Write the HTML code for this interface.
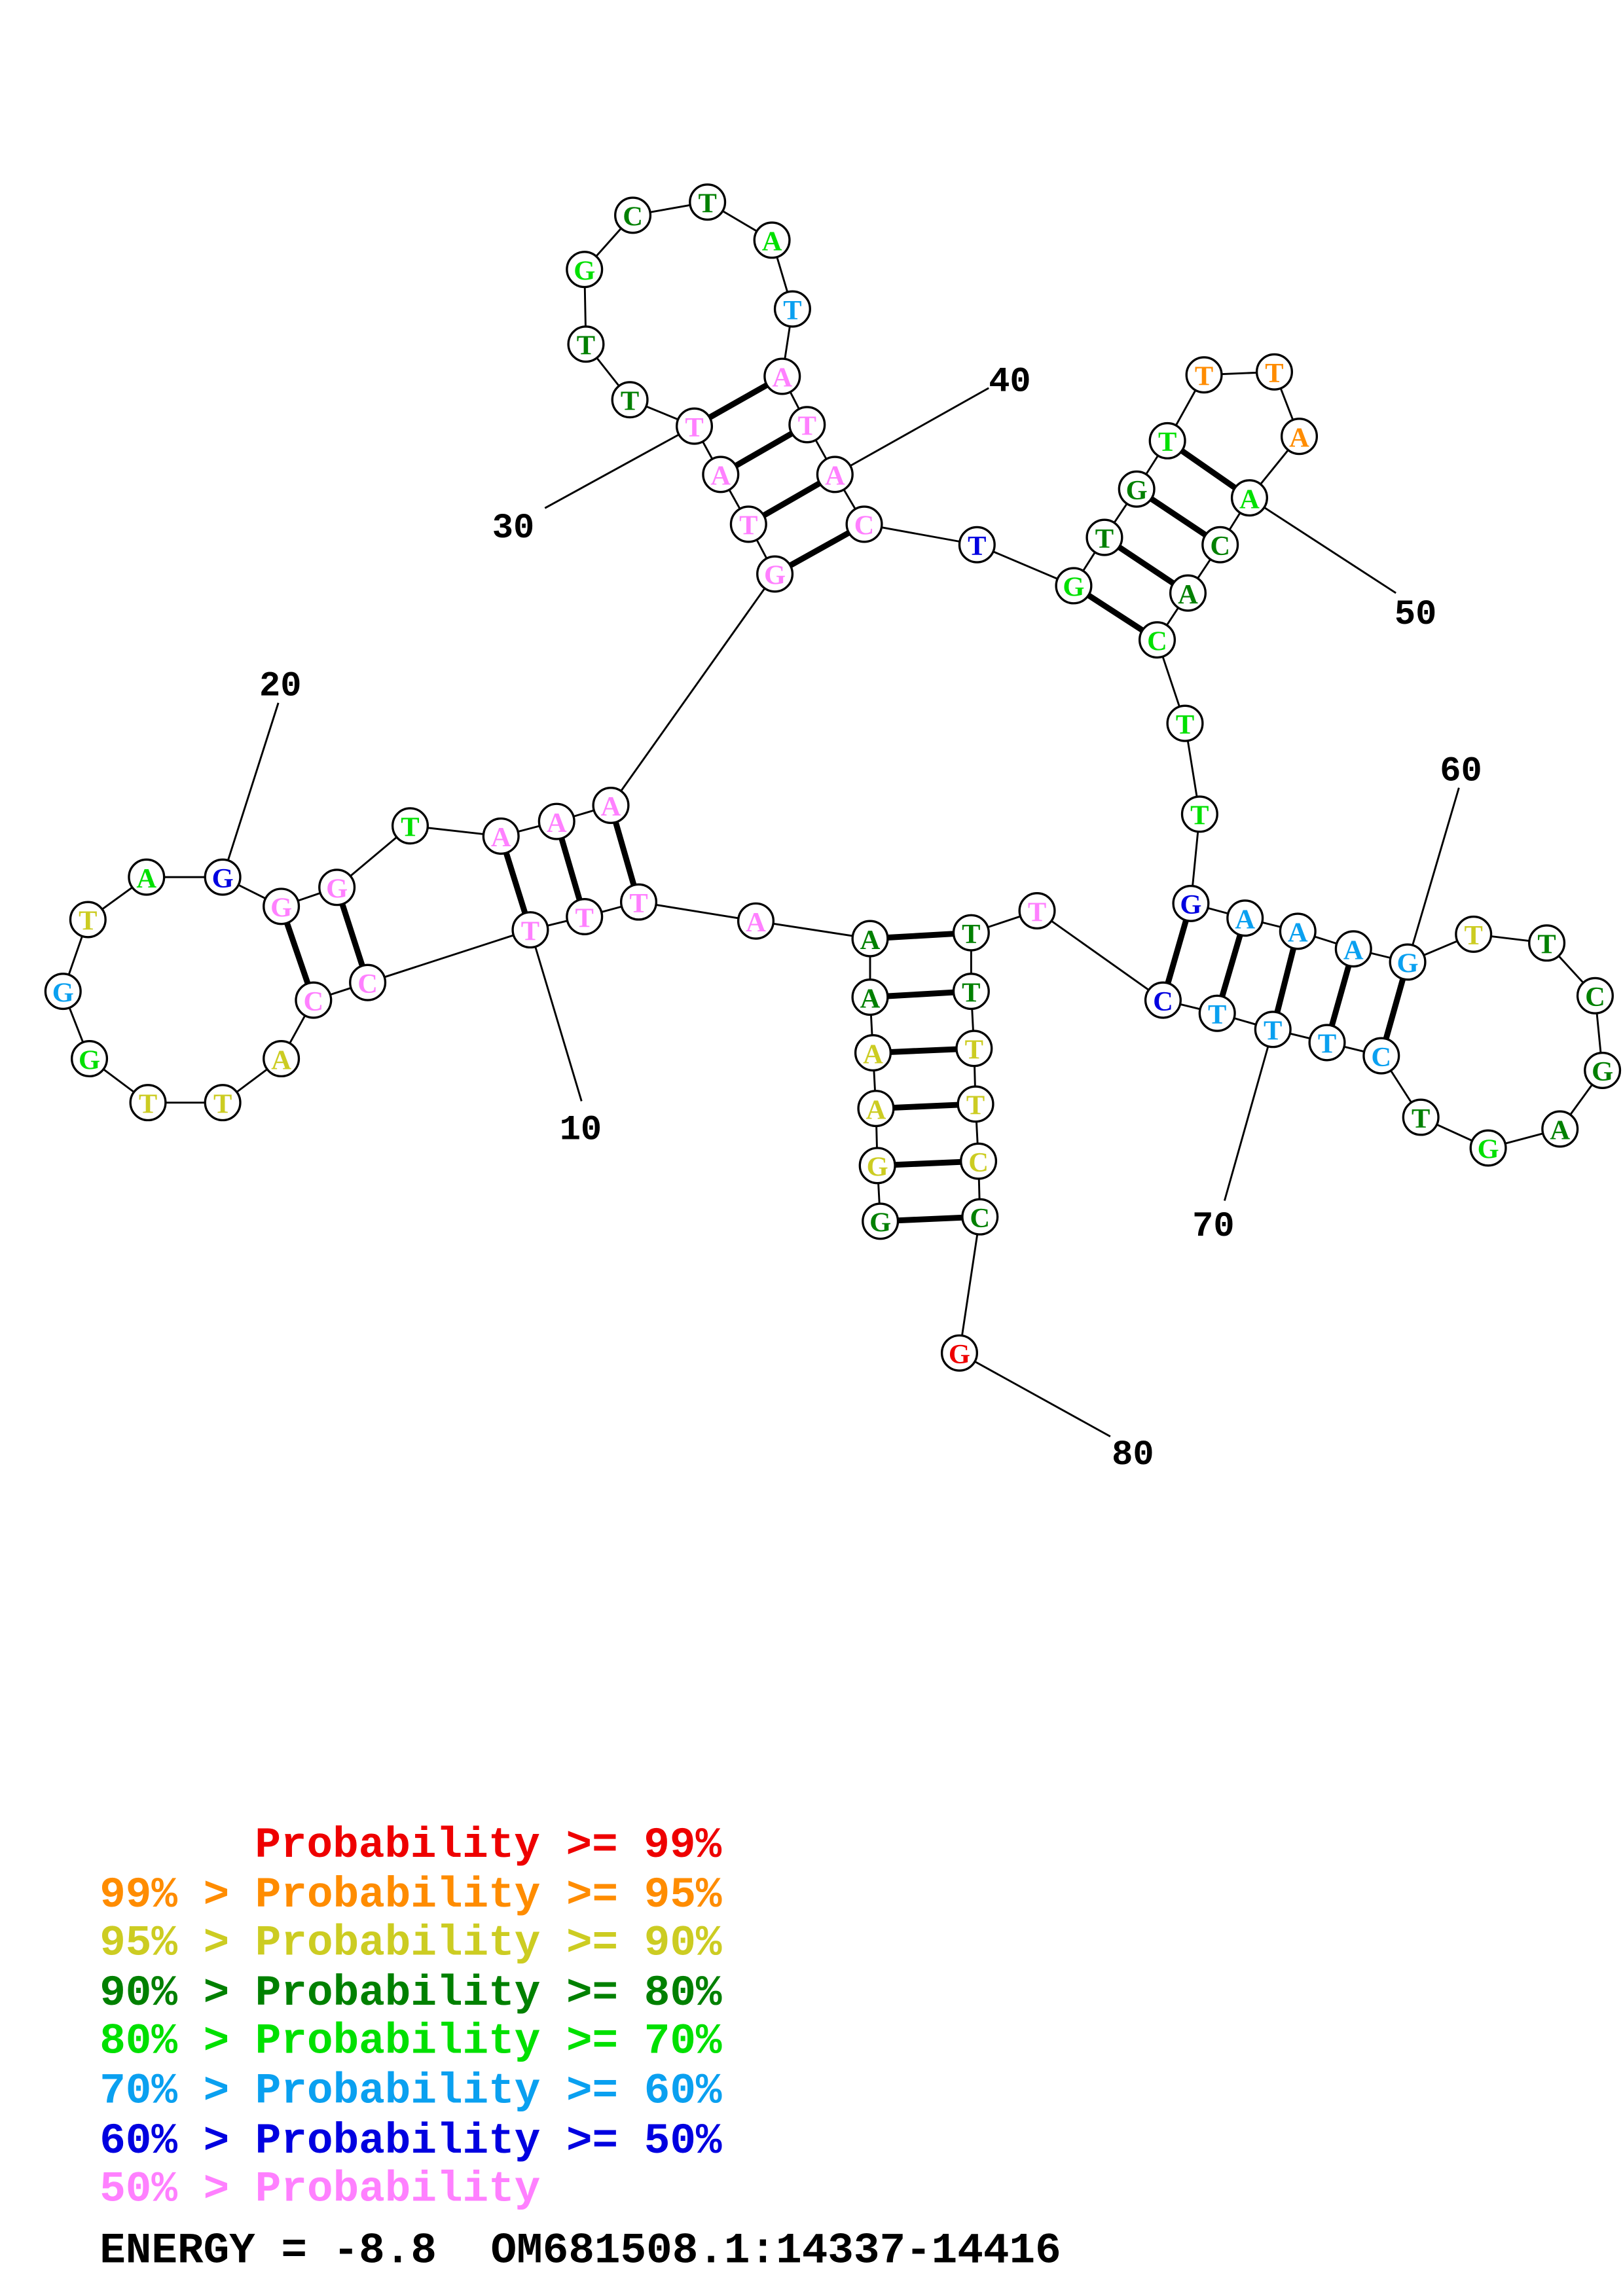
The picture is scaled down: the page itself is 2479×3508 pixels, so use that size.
<!DOCTYPE html>
<html><head><meta charset="utf-8"><style>
html,body{margin:0;padding:0;background:#fff;}
svg{display:block}
.n text{font-family:"Liberation Serif",serif;font-weight:bold;font-size:19px;text-anchor:middle;dominant-baseline:central}
.lb{font-family:"Liberation Mono",monospace;font-weight:bold;font-size:24px;fill:#000}
.lg{font-family:"Liberation Mono",monospace;font-weight:bold;font-size:29.5px}
</style></head><body>
<svg id="s" width="2479" height="3508" viewBox="0 0 1108 1568" xmlns="http://www.w3.org/2000/svg">
<g id="bb" stroke="#000" stroke-width="1.3" fill="none"></g>
<g id="pp" stroke="#000" stroke-width="4" fill="none"></g>
<g stroke="#000" stroke-width="1.3">
<line x1="362" y1="635" x2="397" y2="752"/>
<line x1="152" y1="599" x2="190" y2="480"/>
<line x1="474" y1="291" x2="372" y2="347"/>
<line x1="570" y1="324" x2="675" y2="265"/>
<line x1="853" y1="340" x2="953" y2="405"/>
<line x1="961" y1="657" x2="996" y2="538"/>
<line x1="869" y1="703" x2="836" y2="820"/>
<line x1="655" y1="924" x2="758" y2="981"/>
</g>
<g class="lb">
<text x="382" y="778">10</text><text x="177" y="475">20</text>
<text x="336" y="367">30</text><text x="675" y="267">40</text>
<text x="952" y="426">50</text><text x="983" y="533">60</text>
<text x="814" y="844">70</text><text x="759" y="1000">80</text>
</g>
<g id="nn" class="n"></g>
<g class="lg">
<text x="174" y="1268" fill="#ee0000">Probability &gt;= 99%</text>
<text x="68" y="1302" fill="#ff8c00">99% &gt; Probability &gt;= 95%</text>
<text x="68" y="1335" fill="#cccc22">95% &gt; Probability &gt;= 90%</text>
<text x="68" y="1369" fill="#008000">90% &gt; Probability &gt;= 80%</text>
<text x="68" y="1402" fill="#00e000">80% &gt; Probability &gt;= 70%</text>
<text x="68" y="1436" fill="#0aa0f0">70% &gt; Probability &gt;= 60%</text>
<text x="68" y="1470" fill="#0000e0">60% &gt; Probability &gt;= 50%</text>
<text x="68" y="1503" fill="#ff80ff">50% &gt; Probability</text>
<text x="68" y="1545" fill="#000">ENERGY = -8.8</text>
<text x="335" y="1545" fill="#000">OM681508.1:14337-14416</text>
</g>
</svg>
<script>
var P="#ff80ff",R="#ee0000",O="#ff8c00",Y="#cccc22",D="#008000",G="#00e000",S="#0aa0f0",B="#0000e0";
var N=[
["G",601,834,D],["G",599,796,Y],["A",598,757,Y],["A",596,719,Y],["A",594,681,D],["A",594,641,D],
["A",516,629,P],["T",436,616,P],["T",399,626,P],["T",362,635,P],["C",251,671,P],["C",214,683,P],
["A",192,723,Y],["T",152,753,Y],["T",101,753,Y],["G",61,723,G],["G",43,677,S],["T",60,628,Y],
["A",100,599,G],["G",152,599,B],["G",192,619,P],["G",230,606,P],["T",280,564,G],["A",342,571,P],
["A",380,561,P],["A",417,550,P],["G",529,392,P],["T",511,358,P],["A",492,324,P],["T",474,291,P],
["T",430,273,D],["T",400,235,D],["G",399,184,G],["C",432,147,D],["T",483,138,D],["A",527,164,G],
["T",541,211,S],["A",534,257,P],["T",551,290,P],["A",570,324,P],["C",590,358,P],["T",667,372,B],
["G",733,400,G],["T",754,367,D],["G",776,334,D],["T",797,301,G],["T",822,256,O],["T",870,254,O],
["A",887,298,O],["A",853,340,G],["C",833,372,D],["A",811,405,D],["C",790,437,G],["T",809,494,G],
["T",819,556,G],["G",813,617,B],["A",850,627,S],["A",886,636,S],["A",924,648,S],["G",961,657,S],
["T",1006,638,Y],["T",1056,644,D],["C",1089,680,D],["G",1094,731,D],["A",1065,771,D],["G",1016,784,G],
["T",970,763,D],["C",943,721,S],["T",906,712,S],["T",869,703,S],["T",831,692,S],["C",794,683,B],
["T",708,622,P],["T",663,637,D],["T",663,677,D],["T",665,716,Y],["T",666,754,Y],["C",668,793,Y],
["C",669,831,D],["G",655,924,R]];
var pairs=[[1,79],[2,78],[3,77],[4,76],[5,75],[6,74],[8,26],[9,25],[10,24],[12,21],[11,22],
[27,41],[28,40],[29,39],[30,38],[43,53],[44,52],[45,51],[46,50],[56,72],[57,71],[58,70],[59,69],[60,68]];
var ns="http://www.w3.org/2000/svg";
function el(t,a,p){var e=document.createElementNS(ns,t);for(var k in a)e.setAttribute(k,a[k]);p.appendChild(e);return e;}
var bb=document.getElementById("bb"),pp=document.getElementById("pp"),nn=document.getElementById("nn");
for(var i=0;i<N.length-1;i++)el("line",{x1:N[i][1],y1:N[i][2],x2:N[i+1][1],y2:N[i+1][2]},bb);
pairs.forEach(function(p){var a=N[p[0]-1],b=N[p[1]-1],dx=b[1]-a[1],dy=b[2]-a[2],L=Math.hypot(dx,dy),ux=dx/L*12,uy=dy/L*12;
el("line",{x1:a[1]+ux,y1:a[2]+uy,x2:b[1]-ux,y2:b[2]-uy},pp);});
N.forEach(function(n){el("circle",{cx:n[1],cy:n[2],r:12,fill:"#fff",stroke:"#000","stroke-width":1.5},nn);
var t=el("text",{x:n[1],y:n[2]+1,fill:n[3]},nn);t.textContent=n[0];});
</script>
</body></html>
